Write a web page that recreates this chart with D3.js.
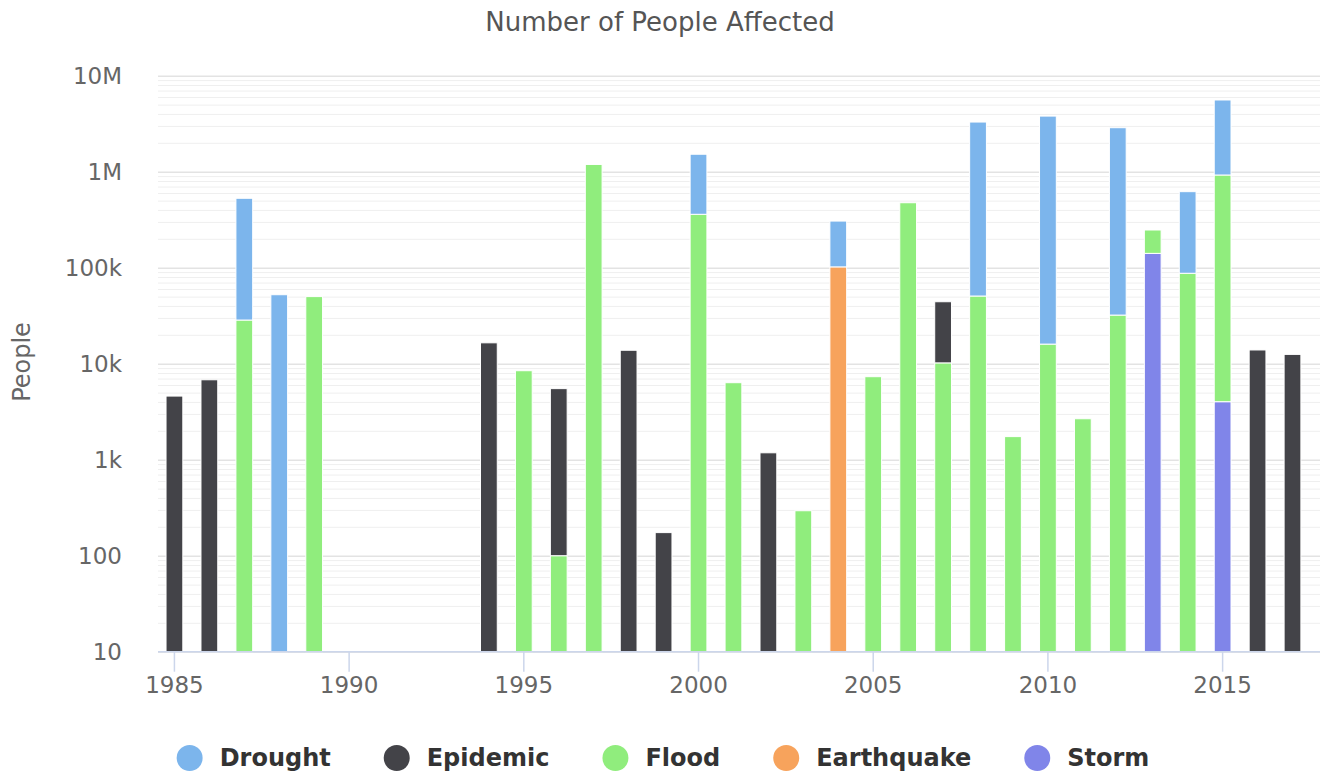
<!DOCTYPE html>
<html>
<head>
<meta charset="utf-8">
<script src="https://cdn.jsdelivr.net/npm/d3@7"></script>
<style>
  body { margin: 0; background: #fff; }
  svg { display: block; font-family: "DejaVu Sans", sans-serif; }
</style>
</head>
<body>
<div id="chart"></div>
<script>
// values (people affected, 0 = no event)
const years      = [1985, 1986, 1987, 1988, 1989, 1994, 1995, 1996, 1997, 1998, 1999, 2000, 2001, 2002, 2003, 2004, 2005, 2006, 2007, 2008, 2009, 2010, 2011, 2012, 2013, 2014, 2015, 2016, 2017];
const drought    = [0, 0, 500000, 52300, 0, 0, 0, 0, 0, 0, 0, 1160000, 0, 0, 0, 204000, 0, 0, 0, 3240000, 0, 3780000, 0, 2840000, 0, 532000, 4660000, 0, 0];
const epidemic   = [4600, 6800, 0, 0, 0, 16500, 0, 5400, 0, 13800, 174, 0, 0, 1180, 0, 0, 0, 0, 34000, 0, 0, 0, 0, 0, 0, 0, 0, 13900, 12500];
const flood      = [0, 0, 28500, 0, 50000, 0, 8450, 100, 1190000, 0, 0, 360000, 6340, 0, 294, 0, 7320, 475000, 10200, 50700, 1740, 16000, 2670, 32100, 106000, 87500, 920000, 0, 0];
const earthquake = [0, 0, 0, 0, 0, 0, 0, 0, 0, 0, 0, 0, 0, 0, 0, 102000, 0, 0, 0, 0, 0, 0, 0, 0, 0, 0, 0, 0, 0];
const storm      = [0, 0, 0, 0, 0, 0, 0, 0, 0, 0, 0, 0, 0, 0, 0, 0, 0, 0, 0, 0, 0, 0, 0, 0, 141000, 0, 4020, 0, 0];

const seriesNames = ["Drought", "Epidemic", "Flood", "Earthquake", "Storm"];
const seriesColors = ["#7cb5ec", "#434348", "#90ed7d", "#f7a35c", "#8085e9"];
const yTicks = [10, 100, 1000, 10000, 100000, 1000000, 10000000];
const yTickLabels = ["10", "100", "1k", "10k", "100k", "1M", "10M"];
const xTicks = [1985, 1990, 1995, 2000, 2005, 2010, 2015];

const width = 1325, height = 777;
const margin = {top: 75.7, right: 5, bottom: 125.3, left: 158};

const table = years.map((yr, i) => ({
  year: yr,
  Drought: drought[i], Epidemic: epidemic[i], Flood: flood[i],
  Earthquake: earthquake[i], Storm: storm[i]
}));

const color = d3.scaleOrdinal().domain(seriesNames).range(seriesColors);

const x = d3.scaleLinear()
  .domain([1984.53, 2017.73])
  .range([margin.left, width - margin.right - 2]);

const y = d3.scaleLog()
  .domain([10, 1e7])
  .range([height - margin.bottom, margin.top]);

// first series sits on top of the stack, like the original
const stack = d3.stack().keys(seriesNames.slice().reverse());
const layers = stack(table);

const barW = (x(1) - x(0)) * 0.6 * 0.8;

const svg = d3.select("#chart").append("svg")
  .attr("width", width)
  .attr("height", height);

// grid
const minor = [];
for (let p = 1; p < 7; p++) for (let k = 2; k <= 9; k++) minor.push(k * Math.pow(10, p));

svg.append("g")
  .selectAll("line")
  .data(minor)
  .join("line")
    .attr("x1", margin.left).attr("x2", width - margin.right)
    .attr("y1", d => y(d) + 0.5).attr("y2", d => y(d) + 0.5)
    .attr("stroke", "#efefef");

svg.append("g")
  .selectAll("line")
  .data(yTicks)
  .join("line")
    .attr("x1", margin.left).attr("x2", width - margin.right)
    .attr("y1", d => y(d) + 0.5).attr("y2", d => y(d) + 0.5)
    .attr("stroke", "#e3e3e3")
    .attr("stroke-width", 1.5);

// bars
svg.append("g")
  .selectAll("g")
  .data(layers)
  .join("g")
    .attr("fill", d => color(d.key))
  .selectAll("rect")
  .data(d => d.filter(s => s[1] - s[0] > 0))
  .join("rect")
    .attr("x", d => x(d.data.year) - barW / 2)
    .attr("width", barW)
    .attr("y", d => y(d[1]))
    .attr("height", d => y(Math.max(d[0], 10)) - y(d[1]))
    .attr("stroke", "#fff")
    .attr("stroke-width", 1);

// x axis
const xAxis = svg.append("g")
  .attr("transform", `translate(0,${height - margin.bottom})`);
xAxis.append("line")
  .attr("x1", margin.left).attr("x2", width - margin.right)
  .attr("stroke", "#ccd6eb").attr("stroke-width", 1.5);
const xt = xAxis.selectAll("g")
  .data(xTicks)
  .join("g")
    .attr("transform", d => `translate(${x(d)},0)`);
xt.append("line")
  .attr("y2", 20)
  .attr("stroke", "#ccd6eb").attr("stroke-width", 1.5);
xt.append("text")
  .attr("y", 41)
  .attr("text-anchor", "middle")
  .attr("font-size", 23)
  .attr("fill", "#666")
  .text(d => d);

// y axis labels
svg.append("g")
  .selectAll("text")
  .data(yTicks)
  .join("text")
    .attr("x", 122)
    .attr("y", d => y(d))
    .attr("dy", "0.35em")
    .attr("text-anchor", "end")
    .attr("font-size", 23)
    .attr("fill", "#666")
    .text((d, i) => yTickLabels[i]);

svg.append("text")
  .attr("transform", "translate(30,362) rotate(-90)")
  .attr("text-anchor", "middle")
  .attr("font-size", 24)
  .attr("fill", "#666")
  .text("People");

// title
svg.append("text")
  .attr("x", 660)
  .attr("y", 31)
  .attr("text-anchor", "middle")
  .attr("font-size", 26)
  .attr("fill", "#555")
  .text("Number of People Affected");

// legend
const legend = svg.append("g")
  .attr("font-size", 24)
  .attr("font-weight", "bold")
  .attr("fill", "#333");
const items = legend.selectAll("g")
  .data(seriesNames)
  .join("g");
items.append("circle")
  .attr("r", 13)
  .attr("cx", 13)
  .attr("cy", 0)
  .attr("fill", d => color(d));
items.append("text")
  .attr("x", 43)
  .attr("dy", "0.35em")
  .text(d => d);

const gap = 53;
const widths = [];
items.each(function() {
  widths.push(43 + d3.select(this).select("text").node().getComputedTextLength());
});
const total = d3.sum(widths) + gap * (widths.length - 1);
let offset = 663 - total / 2;
items.attr("transform", (d, i) => {
  const t = `translate(${offset},758)`;
  offset += widths[i] + gap;
  return t;
});
</script>
</body>
</html>
